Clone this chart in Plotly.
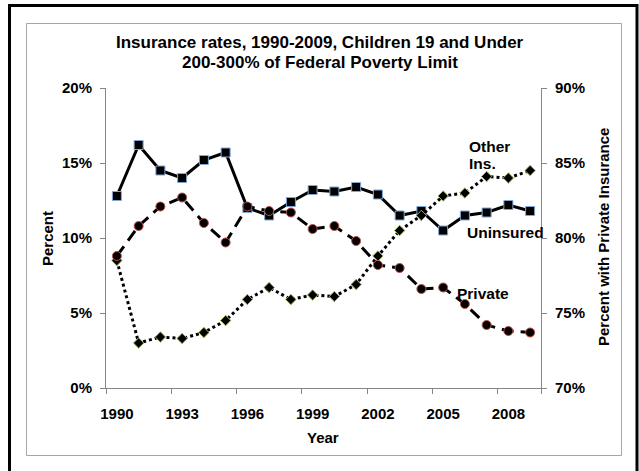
import plotly.graph_objects as go

# Survey years
years = list(range(1990, 2010))

# Share of children (19 and under, 200-300% FPL) with no coverage, in percent
uninsured = [12.8, 16.2, 14.5, 14.0, 15.2, 15.7, 12.0, 11.5, 12.4, 13.2,
             13.1, 13.4, 12.9, 11.5, 11.8, 10.5, 11.5, 11.7, 12.2, 11.8]

# Share with other (public / non-private) insurance, in percent
other_ins = [8.5, 3.0, 3.4, 3.3, 3.7, 4.5, 5.9, 6.7, 5.9, 6.2,
             6.1, 6.9, 8.8, 10.5, 11.5, 12.8, 13.0, 14.1, 14.0, 14.5]

# Share with private insurance, in percent (right axis)
private = [78.8, 80.8, 82.1, 82.7, 81.0, 79.7, 82.1, 81.8, 81.7, 80.6,
           80.8, 79.8, 78.2, 78.0, 76.6, 76.7, 75.6, 74.2, 73.8, 73.7]

left_ticks = [0, 5, 10, 15, 20]
left_labels = ["0%", "5%", "10%", "15%", "20%"]
right_ticks = [70, 75, 80, 85, 90]
right_labels = ["70%", "75%", "80%", "85%", "90%"]
year_labels = [1990, 1993, 1996, 1999, 2002, 2005, 2008]

title_lines = ["Insurance rates, 1990-2009, Children 19 and Under",
               "200-300% of Federal Poverty Limit"]

W, H = 639, 471
L, R, T, B = 106, 98, 88, 83
PW, PH = W - L - R, H - T - B

FONT = "Liberation Sans, Arial, sans-serif"
AXIS_GRAY = "#868686"
TICK_SIZE = 15


def px_x(p):
    return (p - L) / PW


def px_y(p):
    return (H - B - p) / PH


fig = go.Figure()

fig.add_trace(go.Scatter(
    x=years, y=uninsured, name="Uninsured", mode="lines+markers",
    line=dict(color="black", width=3),
    marker=dict(symbol="square", size=9, color="black",
                line=dict(color="#7fa7d9", width=1)),
    yaxis="y", xaxis="x",
))

fig.add_trace(go.Scatter(
    x=years, y=other_ins, name="Other Ins.", mode="lines+markers",
    line=dict(color="black", width=3, dash="dot"),
    marker=dict(symbol="diamond", size=8, color="black",
                line=dict(color="#9bbb59", width=1)),
    yaxis="y", xaxis="x",
))

fig.add_trace(go.Scatter(
    x=years, y=private, name="Private", mode="lines+markers",
    line=dict(color="black", width=3, dash="12px,7px"),
    marker=dict(symbol="circle", size=9, color="black",
                line=dict(color="#c0504d", width=1)),
    yaxis="y2", xaxis="x",
))

xrange = [years[0] - 0.5, years[-1] + 0.5]

fig.update_layout(
    width=W, height=H,
    margin=dict(l=L, r=R, t=T, b=B, pad=0),
    paper_bgcolor="white", plot_bgcolor="white",
    showlegend=False,
    font=dict(family=FONT, size=13, color="black", weight="bold"),
    xaxis=dict(
        range=xrange, tickmode="array", tickvals=year_labels,
        ticktext=[str(v) for v in year_labels],
        ticks="outside", ticklen=12, tickcolor="rgba(0,0,0,0)",
        showline=True, linecolor=AXIS_GRAY, linewidth=1,
        showgrid=False, zeroline=False,
        tickfont=dict(family=FONT, size=TICK_SIZE, weight="bold"),
    ),
    xaxis3=dict(
        range=xrange, overlaying="x", anchor="y", side="bottom",
        tickmode="array",
        tickvals=[v - 0.5 for v in years[::3]] + [years[-1] + 0.5],
        ticks="outside", ticklen=5, tickcolor=AXIS_GRAY,
        showticklabels=False, showline=False, showgrid=False, zeroline=False,
    ),
    yaxis=dict(
        range=[0, 20], tickmode="array", tickvals=left_ticks, ticktext=left_labels,
        ticks="outside", ticklen=5, tickcolor=AXIS_GRAY,
        ticklabelstandoff=5,
        showline=True, linecolor=AXIS_GRAY, linewidth=1,
        showgrid=False, zeroline=False,
        tickfont=dict(family=FONT, size=TICK_SIZE, weight="bold"),
    ),
    yaxis2=dict(
        range=[70, 90], overlaying="y", side="right", anchor="x",
        tickmode="array", tickvals=right_ticks, ticktext=right_labels,
        ticks="outside", ticklen=5, tickcolor=AXIS_GRAY,
        ticklabelstandoff=5,
        showline=True, linecolor=AXIS_GRAY, linewidth=1,
        showgrid=False, zeroline=False,
        tickfont=dict(family=FONT, size=TICK_SIZE, weight="bold"),
    ),
)

# keep an (empty) trace on the tick-mark axis so it is rendered
fig.add_trace(go.Scatter(x=[None], y=[None], xaxis="x3", yaxis="y",
                         showlegend=False, hoverinfo="skip"))


def label(text, x, y, xanchor="center", size=TICK_SIZE, angle=0, align="center"):
    fig.add_annotation(text=text, xref="paper", yref="paper",
                       x=px_x(x), y=px_y(y), xanchor=xanchor, yanchor="middle",
                       textangle=angle, align=align, showarrow=False,
                       font=dict(family=FONT, size=size, weight="bold"))


# Two-line chart title
label(title_lines[0], 320, 42, size=17)
label(title_lines[1], 320, 62, size=17)

# Axis titles
label("Percent", 47, 238, angle=-90)
label("Percent with Private Insurance", 603, 237, angle=-90)
label("Year", 323, 437)

# Series labels
label("Other", 467, 146, xanchor="left", size=15.5)
label("Ins.", 467, 163, xanchor="left", size=15.5)
label("Uninsured", 465, 233, xanchor="left", size=15.5)
label("Private", 455, 293, xanchor="left", size=15.5)

# Chart-area borders: thin gray inner frame, heavy black outer frame
fig.add_shape(type="rect", xref="paper", yref="paper",
              x0=px_x(26.5), x1=px_x(621.5), y0=px_y(455.5), y1=px_y(23.5),
              line=dict(color="#a6a6a6", width=1), layer="above")
fig.add_shape(type="rect", xref="paper", yref="paper",
              x0=px_x(9.5), x1=px_x(637), y0=px_y(490), y1=px_y(5.5),
              line=dict(color="black", width=3), layer="above")

fig.write_html("out.html")
